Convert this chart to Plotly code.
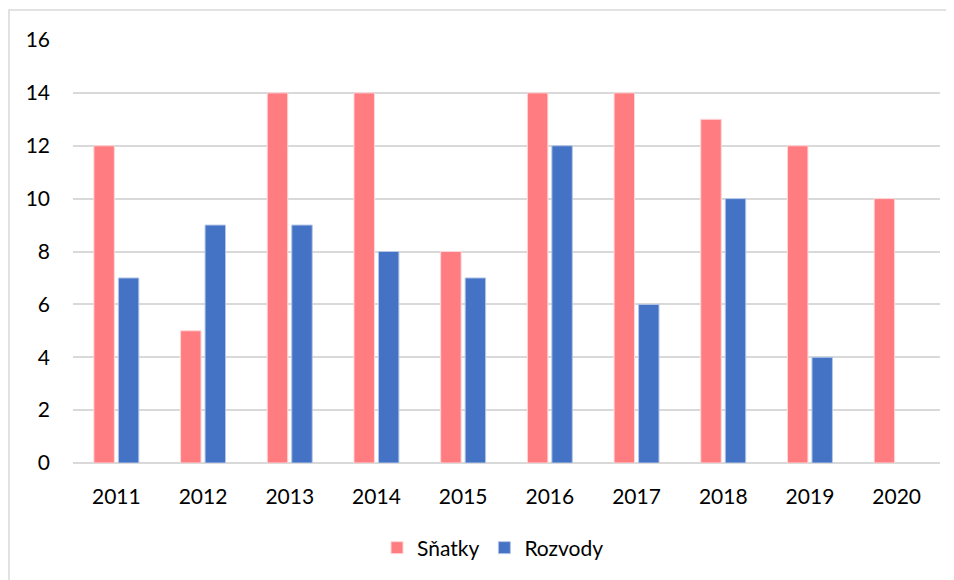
import plotly.graph_objects as go

years = ["2011", "2012", "2013", "2014", "2015", "2016", "2017", "2018", "2019", "2020"]
snatky = [12, 5, 14, 14, 8, 14, 14, 13, 12, 10]
rozvody = [7, 9, 9, 8, 7, 12, 6, 10, 4, None]
y_ticks = [0, 2, 4, 6, 8, 10, 12, 14, 16]

FONT = "Lato"
# page has an 8px body margin, so the figure is 946x572 placed at (8, 8)
W, H = 946, 572
L, R, T, B = 65, 14, 32, 117
PW, PH = W - L - R, H - T - B

fig = go.Figure()
fig.add_trace(go.Bar(x=years, y=snatky, name="Sňatky",
                     marker=dict(color="#FF7C80", line=dict(color="#FFD6D7", width=1))))
fig.add_trace(go.Bar(x=years, y=rozvody, name="Rozvody",
                     marker=dict(color="#4472C4", line=dict(color="#B4C7E7", width=1))))

fig.update_layout(
    width=W, height=H,
    margin=dict(l=L, r=R, t=T, b=B),
    paper_bgcolor="white", plot_bgcolor="white",
    barmode="group", bargap=0.435, bargroupgap=0.165,
    font=dict(family=FONT, size=21, color="#000000"),
    showlegend=True,
    legend=dict(orientation="h", x=(493 - 8 - L) / PW, xanchor="center",
                y=-(540 - (H - B)) / PH, yanchor="middle",
                font=dict(family=FONT, size=21), itemwidth=30, traceorder="normal"),
    xaxis=dict(showgrid=False, showline=False, ticks="", ticklabelstandoff=19,
               tickfont=dict(family=FONT, size=21)),
    yaxis=dict(range=[0, 16], tickvals=y_ticks, showgrid=True, gridcolor="#D9D9D9",
               gridwidth=1.5, zeroline=True, zerolinecolor="#D9D9D9", zerolinewidth=1.5,
               showline=False, ticks="", ticklabelstandoff=22,
               tickfont=dict(family=FONT, size=21)),
    shapes=[dict(type="rect", xref="paper", yref="paper",
                 x0=(1 - L) / PW, x1=1.2, y0=-0.6, y1=(H - B - 2) / PH,
                 line=dict(color="#D9D9D9", width=1.5), fillcolor="rgba(0,0,0,0)",
                 layer="below")],
)

fig.write_html("out.html")
